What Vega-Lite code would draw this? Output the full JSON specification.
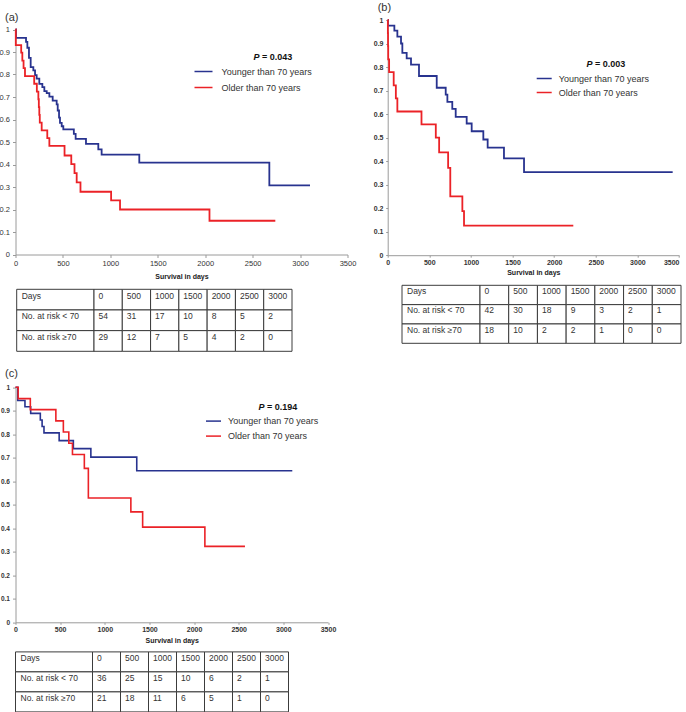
{
  "$schema": "https://vega.github.io/schema/vega-lite/v6.json",
  "background": "white",
  "padding": {"left": -1.5, "top": 1, "right": 0, "bottom": 0},
  "config": {
    "font": "Liberation Sans",
    "view": {"stroke": null},
    "axis": {"grid": false, "domainColor": "#9a9a9a", "tickColor": "#9a9a9a", "labelColor": "#333", "titleColor": "#222", "labelFont": "Liberation Sans", "titleFont": "Liberation Sans", "labelOverlap": false},
    "legend": {"labelFont": "Liberation Sans"}
  },
  "datasets": {
    "km": [
      {"p":"a","g":"Younger than 70 years","t":0,"s":1},
      {"p":"a","g":"Younger than 70 years","t":5,"s":0.963},
      {"p":"a","g":"Younger than 70 years","t":111,"s":0.945},
      {"p":"a","g":"Younger than 70 years","t":125,"s":0.919},
      {"p":"a","g":"Younger than 70 years","t":142,"s":0.874},
      {"p":"a","g":"Younger than 70 years","t":160,"s":0.833},
      {"p":"a","g":"Younger than 70 years","t":188,"s":0.818},
      {"p":"a","g":"Younger than 70 years","t":206,"s":0.797},
      {"p":"a","g":"Younger than 70 years","t":223,"s":0.782},
      {"p":"a","g":"Younger than 70 years","t":251,"s":0.758},
      {"p":"a","g":"Younger than 70 years","t":283,"s":0.744},
      {"p":"a","g":"Younger than 70 years","t":304,"s":0.726},
      {"p":"a","g":"Younger than 70 years","t":329,"s":0.717},
      {"p":"a","g":"Younger than 70 years","t":357,"s":0.702},
      {"p":"a","g":"Younger than 70 years","t":392,"s":0.684},
      {"p":"a","g":"Younger than 70 years","t":434,"s":0.667},
      {"p":"a","g":"Younger than 70 years","t":445,"s":0.64},
      {"p":"a","g":"Younger than 70 years","t":459,"s":0.608},
      {"p":"a","g":"Younger than 70 years","t":469,"s":0.585},
      {"p":"a","g":"Younger than 70 years","t":487,"s":0.57},
      {"p":"a","g":"Younger than 70 years","t":504,"s":0.556},
      {"p":"a","g":"Younger than 70 years","t":615,"s":0.536},
      {"p":"a","g":"Younger than 70 years","t":634,"s":0.514},
      {"p":"a","g":"Younger than 70 years","t":743,"s":0.492},
      {"p":"a","g":"Younger than 70 years","t":873,"s":0.467},
      {"p":"a","g":"Younger than 70 years","t":908,"s":0.444},
      {"p":"a","g":"Younger than 70 years","t":1305,"s":0.408},
      {"p":"a","g":"Younger than 70 years","t":2676,"s":0.307},
      {"p":"a","g":"Younger than 70 years","t":3105,"s":0.307},
      {"p":"a","g":"Older than 70 years","t":0,"s":1},
      {"p":"a","g":"Older than 70 years","t":3,"s":0.931},
      {"p":"a","g":"Older than 70 years","t":60,"s":0.897},
      {"p":"a","g":"Older than 70 years","t":72,"s":0.862},
      {"p":"a","g":"Older than 70 years","t":85,"s":0.828},
      {"p":"a","g":"Older than 70 years","t":100,"s":0.793},
      {"p":"a","g":"Older than 70 years","t":197,"s":0.759},
      {"p":"a","g":"Older than 70 years","t":225,"s":0.724},
      {"p":"a","g":"Older than 70 years","t":241,"s":0.69},
      {"p":"a","g":"Older than 70 years","t":246,"s":0.655},
      {"p":"a","g":"Older than 70 years","t":251,"s":0.621},
      {"p":"a","g":"Older than 70 years","t":256,"s":0.586},
      {"p":"a","g":"Older than 70 years","t":276,"s":0.552},
      {"p":"a","g":"Older than 70 years","t":335,"s":0.517},
      {"p":"a","g":"Older than 70 years","t":357,"s":0.483},
      {"p":"a","g":"Older than 70 years","t":517,"s":0.44},
      {"p":"a","g":"Older than 70 years","t":588,"s":0.402},
      {"p":"a","g":"Older than 70 years","t":622,"s":0.362},
      {"p":"a","g":"Older than 70 years","t":645,"s":0.321},
      {"p":"a","g":"Older than 70 years","t":685,"s":0.279},
      {"p":"a","g":"Older than 70 years","t":1008,"s":0.241},
      {"p":"a","g":"Older than 70 years","t":1102,"s":0.2},
      {"p":"a","g":"Older than 70 years","t":2045,"s":0.15},
      {"p":"a","g":"Older than 70 years","t":2739,"s":0.15},
      {"p":"b","g":"Younger than 70 years","t":0,"s":1},
      {"p":"b","g":"Younger than 70 years","t":3,"s":0.976},
      {"p":"b","g":"Younger than 70 years","t":80,"s":0.955},
      {"p":"b","g":"Younger than 70 years","t":116,"s":0.929},
      {"p":"b","g":"Younger than 70 years","t":160,"s":0.9},
      {"p":"b","g":"Younger than 70 years","t":176,"s":0.86},
      {"p":"b","g":"Younger than 70 years","t":228,"s":0.837},
      {"p":"b","g":"Younger than 70 years","t":280,"s":0.81},
      {"p":"b","g":"Younger than 70 years","t":376,"s":0.762},
      {"p":"b","g":"Younger than 70 years","t":589,"s":0.712},
      {"p":"b","g":"Younger than 70 years","t":697,"s":0.683},
      {"p":"b","g":"Younger than 70 years","t":717,"s":0.652},
      {"p":"b","g":"Younger than 70 years","t":776,"s":0.622},
      {"p":"b","g":"Younger than 70 years","t":817,"s":0.588},
      {"p":"b","g":"Younger than 70 years","t":949,"s":0.56},
      {"p":"b","g":"Younger than 70 years","t":1009,"s":0.527},
      {"p":"b","g":"Younger than 70 years","t":1149,"s":0.492},
      {"p":"b","g":"Younger than 70 years","t":1201,"s":0.457},
      {"p":"b","g":"Younger than 70 years","t":1397,"s":0.412},
      {"p":"b","g":"Younger than 70 years","t":1638,"s":0.353},
      {"p":"b","g":"Younger than 70 years","t":3424,"s":0.353},
      {"p":"b","g":"Older than 70 years","t":0,"s":1},
      {"p":"b","g":"Older than 70 years","t":2,"s":0.944},
      {"p":"b","g":"Older than 70 years","t":4,"s":0.889},
      {"p":"b","g":"Older than 70 years","t":6,"s":0.833},
      {"p":"b","g":"Older than 70 years","t":17,"s":0.778},
      {"p":"b","g":"Older than 70 years","t":72,"s":0.722},
      {"p":"b","g":"Older than 70 years","t":98,"s":0.667},
      {"p":"b","g":"Older than 70 years","t":116,"s":0.611},
      {"p":"b","g":"Older than 70 years","t":406,"s":0.556},
      {"p":"b","g":"Older than 70 years","t":578,"s":0.5},
      {"p":"b","g":"Older than 70 years","t":618,"s":0.437},
      {"p":"b","g":"Older than 70 years","t":726,"s":0.371},
      {"p":"b","g":"Older than 70 years","t":752,"s":0.25},
      {"p":"b","g":"Older than 70 years","t":897,"s":0.187},
      {"p":"b","g":"Older than 70 years","t":917,"s":0.126},
      {"p":"b","g":"Older than 70 years","t":2230,"s":0.126},
      {"p":"c","g":"Younger than 70 years","t":0,"s":1},
      {"p":"c","g":"Younger than 70 years","t":25,"s":0.944},
      {"p":"c","g":"Younger than 70 years","t":106,"s":0.917},
      {"p":"c","g":"Younger than 70 years","t":170,"s":0.889},
      {"p":"c","g":"Younger than 70 years","t":278,"s":0.861},
      {"p":"c","g":"Younger than 70 years","t":298,"s":0.833},
      {"p":"c","g":"Younger than 70 years","t":319,"s":0.806},
      {"p":"c","g":"Younger than 70 years","t":489,"s":0.773},
      {"p":"c","g":"Younger than 70 years","t":648,"s":0.739},
      {"p":"c","g":"Younger than 70 years","t":844,"s":0.703},
      {"p":"c","g":"Younger than 70 years","t":1358,"s":0.645},
      {"p":"c","g":"Younger than 70 years","t":3100,"s":0.645},
      {"p":"c","g":"Older than 70 years","t":0,"s":1},
      {"p":"c","g":"Older than 70 years","t":30,"s":0.952},
      {"p":"c","g":"Older than 70 years","t":166,"s":0.905},
      {"p":"c","g":"Older than 70 years","t":452,"s":0.857},
      {"p":"c","g":"Older than 70 years","t":536,"s":0.81},
      {"p":"c","g":"Older than 70 years","t":597,"s":0.762},
      {"p":"c","g":"Older than 70 years","t":638,"s":0.714},
      {"p":"c","g":"Older than 70 years","t":771,"s":0.655},
      {"p":"c","g":"Older than 70 years","t":816,"s":0.529},
      {"p":"c","g":"Older than 70 years","t":1292,"s":0.47},
      {"p":"c","g":"Older than 70 years","t":1424,"s":0.405},
      {"p":"c","g":"Older than 70 years","t":2121,"s":0.323},
      {"p":"c","g":"Older than 70 years","t":2570,"s":0.323}
    ],
    "tables": [
      {"tab":"a","row":"Days","col":"label","text":"Days"},
      {"tab":"a","row":"Days","col":"0","text":"0"},
      {"tab":"a","row":"Days","col":"500","text":"500"},
      {"tab":"a","row":"Days","col":"1000","text":"1000"},
      {"tab":"a","row":"Days","col":"1500","text":"1500"},
      {"tab":"a","row":"Days","col":"2000","text":"2000"},
      {"tab":"a","row":"Days","col":"2500","text":"2500"},
      {"tab":"a","row":"Days","col":"3000","text":"3000"},
      {"tab":"a","row":"No. at risk < 70","col":"label","text":"No. at risk < 70"},
      {"tab":"a","row":"No. at risk < 70","col":"0","text":"54"},
      {"tab":"a","row":"No. at risk < 70","col":"500","text":"31"},
      {"tab":"a","row":"No. at risk < 70","col":"1000","text":"17"},
      {"tab":"a","row":"No. at risk < 70","col":"1500","text":"10"},
      {"tab":"a","row":"No. at risk < 70","col":"2000","text":"8"},
      {"tab":"a","row":"No. at risk < 70","col":"2500","text":"5"},
      {"tab":"a","row":"No. at risk < 70","col":"3000","text":"2"},
      {"tab":"a","row":"No. at risk ≥70","col":"label","text":"No. at risk ≥70"},
      {"tab":"a","row":"No. at risk ≥70","col":"0","text":"29"},
      {"tab":"a","row":"No. at risk ≥70","col":"500","text":"12"},
      {"tab":"a","row":"No. at risk ≥70","col":"1000","text":"7"},
      {"tab":"a","row":"No. at risk ≥70","col":"1500","text":"5"},
      {"tab":"a","row":"No. at risk ≥70","col":"2000","text":"4"},
      {"tab":"a","row":"No. at risk ≥70","col":"2500","text":"2"},
      {"tab":"a","row":"No. at risk ≥70","col":"3000","text":"0"},
      {"tab":"b","row":"Days","col":"label","text":"Days"},
      {"tab":"b","row":"Days","col":"0","text":"0"},
      {"tab":"b","row":"Days","col":"500","text":"500"},
      {"tab":"b","row":"Days","col":"1000","text":"1000"},
      {"tab":"b","row":"Days","col":"1500","text":"1500"},
      {"tab":"b","row":"Days","col":"2000","text":"2000"},
      {"tab":"b","row":"Days","col":"2500","text":"2500"},
      {"tab":"b","row":"Days","col":"3000","text":"3000"},
      {"tab":"b","row":"No. at risk < 70","col":"label","text":"No. at risk < 70"},
      {"tab":"b","row":"No. at risk < 70","col":"0","text":"42"},
      {"tab":"b","row":"No. at risk < 70","col":"500","text":"30"},
      {"tab":"b","row":"No. at risk < 70","col":"1000","text":"18"},
      {"tab":"b","row":"No. at risk < 70","col":"1500","text":"9"},
      {"tab":"b","row":"No. at risk < 70","col":"2000","text":"3"},
      {"tab":"b","row":"No. at risk < 70","col":"2500","text":"2"},
      {"tab":"b","row":"No. at risk < 70","col":"3000","text":"1"},
      {"tab":"b","row":"No. at risk ≥70","col":"label","text":"No. at risk ≥70"},
      {"tab":"b","row":"No. at risk ≥70","col":"0","text":"18"},
      {"tab":"b","row":"No. at risk ≥70","col":"500","text":"10"},
      {"tab":"b","row":"No. at risk ≥70","col":"1000","text":"2"},
      {"tab":"b","row":"No. at risk ≥70","col":"1500","text":"2"},
      {"tab":"b","row":"No. at risk ≥70","col":"2000","text":"1"},
      {"tab":"b","row":"No. at risk ≥70","col":"2500","text":"0"},
      {"tab":"b","row":"No. at risk ≥70","col":"3000","text":"0"},
      {"tab":"c","row":"Days","col":"label","text":"Days"},
      {"tab":"c","row":"Days","col":"0","text":"0"},
      {"tab":"c","row":"Days","col":"500","text":"500"},
      {"tab":"c","row":"Days","col":"1000","text":"1000"},
      {"tab":"c","row":"Days","col":"1500","text":"1500"},
      {"tab":"c","row":"Days","col":"2000","text":"2000"},
      {"tab":"c","row":"Days","col":"2500","text":"2500"},
      {"tab":"c","row":"Days","col":"3000","text":"3000"},
      {"tab":"c","row":"No. at risk < 70","col":"label","text":"No. at risk < 70"},
      {"tab":"c","row":"No. at risk < 70","col":"0","text":"36"},
      {"tab":"c","row":"No. at risk < 70","col":"500","text":"25"},
      {"tab":"c","row":"No. at risk < 70","col":"1000","text":"15"},
      {"tab":"c","row":"No. at risk < 70","col":"1500","text":"10"},
      {"tab":"c","row":"No. at risk < 70","col":"2000","text":"6"},
      {"tab":"c","row":"No. at risk < 70","col":"2500","text":"2"},
      {"tab":"c","row":"No. at risk < 70","col":"3000","text":"1"},
      {"tab":"c","row":"No. at risk ≥70","col":"label","text":"No. at risk ≥70"},
      {"tab":"c","row":"No. at risk ≥70","col":"0","text":"21"},
      {"tab":"c","row":"No. at risk ≥70","col":"500","text":"18"},
      {"tab":"c","row":"No. at risk ≥70","col":"1000","text":"11"},
      {"tab":"c","row":"No. at risk ≥70","col":"1500","text":"6"},
      {"tab":"c","row":"No. at risk ≥70","col":"2000","text":"5"},
      {"tab":"c","row":"No. at risk ≥70","col":"2500","text":"1"},
      {"tab":"c","row":"No. at risk ≥70","col":"3000","text":"0"}
    ]
  },
  "columns": 2,
  "spacing": {"row": 29.3, "column": 40.2},
  "bounds": "flush",
  "align": "each",
  "resolve": {"scale": {"color": "independent"}, "legend": {"color": "independent"}},
  "concat": [
    {
      "width": 332, "height": 234.5,
      "title": {"text": "(a)", "anchor": "start", "frame": "group", "dx": -10.5, "offset": -14, "baseline": "bottom", "fontSize": 11, "fontWeight": "normal", "color": "#333", "font": "Liberation Sans"},
      "layer": [
        {
          "data": {"name": "km"},
          "transform": [{"filter": "datum.p === 'a'"}],
          "mark": {"type": "line", "interpolate": "step-after", "strokeWidth": 1.8},
          "encoding": {
            "x": {"field": "t", "type": "quantitative", "scale": {"domain": [0, 3500], "nice": false, "zero": false},
                  "axis": {"values": [0,500,1000,1500,2000,2500,3000,3500], "tickCount": 20, "format": "d", "title": "Survival in days", "titleFontSize": 7, "titleFontWeight": "bold", "titlePadding": 5, "labelFontSize": 7.5, "labelFontWeight": "normal", "tickSize": 3, "labelPadding": 2, "labelFlush": false, "labelOverlap": false}},
            "y": {"field": "s", "type": "quantitative", "scale": {"domain": [0, 1], "range": [234.5, 9.5], "nice": false, "zero": false},
                  "axis": {"values": [0,0.1,0.2,0.3,0.4,0.5,0.6,0.7,0.8,0.9,1], "tickCount": 20, "format": "~g", "title": null, "labelFontSize": 7.5, "labelFontWeight": "normal", "tickSize": 3, "labelPadding": 3, "labelOverlap": false, "labelBound": false}},
            "color": {"field": "g", "type": "nominal",
                      "scale": {"domain": ["Younger than 70 years", "Older than 70 years"], "range": ["#28338f", "#eb2227"]},
                      "legend": {"orient": "none", "legendX": 178, "legendY": 41.5, "title": null, "symbolType": "stroke", "symbolSize": 324, "symbolStrokeWidth": 1.5, "labelFontSize": 9, "labelColor": "#333", "labelOffset": 8, "rowPadding": 1, "padding": 0}}
          }
        },
        {
          "data": {"values": [{"a": "P", "b": "= 0.043"}]},
          "mark": {"type": "text", "align": "right", "baseline": "middle", "fontStyle": "italic", "fontWeight": "bold", "fontSize": 9, "color": "#111"},
          "encoding": {"x": {"datum": 2572, "type": "quantitative"}, "y": {"datum": 0.88, "type": "quantitative"}, "text": {"field": "a"}}
        },
        {
          "data": {"values": [{"a": "P", "b": "= 0.043"}]},
          "mark": {"type": "text", "align": "left", "baseline": "middle", "dx": 2.5, "fontWeight": "bold", "fontSize": 9, "color": "#111"},
          "encoding": {"x": {"datum": 2572, "type": "quantitative"}, "y": {"datum": 0.88, "type": "quantitative"}, "text": {"field": "b"}}
        }
      ]
    },
    {
      "width": 291.3, "height": 235.2,
      "title": {"text": "(b)", "anchor": "start", "frame": "group", "dx": -10, "offset": -7.5, "baseline": "bottom", "fontSize": 11, "fontWeight": "normal", "color": "#333", "font": "Liberation Sans"},
      "layer": [
        {
          "data": {"name": "km"},
          "transform": [{"filter": "datum.p === 'b'"}],
          "mark": {"type": "line", "interpolate": "step-after", "strokeWidth": 1.8},
          "encoding": {
            "x": {"field": "t", "type": "quantitative", "scale": {"domain": [0, 3500], "nice": false, "zero": false},
                  "axis": {"values": [0,500,1000,1500,2000,2500,3000,3500], "tickCount": 20, "format": "d", "title": "Survival in days", "titleFontSize": 7, "titleFontWeight": "bold", "titlePadding": 2.5, "labelFontSize": 7, "labelFontWeight": "bold", "tickSize": 2, "labelPadding": 1.5, "labelFlush": false, "labelOverlap": false, "labelAlign": {"expr": "datum.value === 3500 ? 'right' : 'center'"}}},
            "y": {"field": "s", "type": "quantitative", "scale": {"domain": [0, 1], "nice": false, "zero": false},
                  "axis": {"values": [0,0.1,0.2,0.3,0.4,0.5,0.6,0.7,0.8,0.9,1], "tickCount": 20, "format": "~g", "title": null, "labelFontSize": 7, "labelFontWeight": "bold", "tickSize": 2, "labelPadding": 2.7, "labelOverlap": false, "labelBound": false}},
            "color": {"field": "g", "type": "nominal",
                      "scale": {"domain": ["Younger than 70 years", "Older than 70 years"], "range": ["#28338f", "#eb2227"]},
                      "legend": {"orient": "none", "legendX": 148, "legendY": 50, "title": null, "symbolType": "stroke", "symbolSize": 225, "symbolStrokeWidth": 1.5, "labelFontSize": 9, "labelColor": "#333", "labelOffset": 6, "rowPadding": -4.5, "padding": 0}}
          }
        },
        {
          "data": {"values": [{"a": "P", "b": "= 0.003"}]},
          "mark": {"type": "text", "align": "right", "baseline": "middle", "fontStyle": "italic", "fontWeight": "bold", "fontSize": 9, "color": "#111"},
          "encoding": {"x": {"datum": 2461, "type": "quantitative"}, "y": {"datum": 0.815, "type": "quantitative"}, "text": {"field": "a"}}
        },
        {
          "data": {"values": [{"a": "P", "b": "= 0.003"}]},
          "mark": {"type": "text", "align": "left", "baseline": "middle", "dx": 2.5, "fontWeight": "bold", "fontSize": 9, "color": "#111"},
          "encoding": {"x": {"datum": 2461, "type": "quantitative"}, "y": {"datum": 0.815, "type": "quantitative"}, "text": {"field": "b"}}
        }
      ]
    },
    {
      "width": 277, "height": 66,
      "data": {"name": "tables"},
      "transform": [{"filter": "datum.tab === 'a'"}],
      "resolve": {"scale": {"x": "independent"}},
      "layer": [
        {
          "transform": [{"filter": "datum.col === 'label'"}],
          "layer": [
            {"mark": {"type": "rect", "fill": "white", "stroke": "#3c3c3c", "strokeWidth": 1},
             "encoding": {
               "x": {"field": "col", "type": "nominal", "scale": {"domain": ["label"], "range": [1.2, 78.5], "paddingInner": 0, "paddingOuter": 0}, "axis": null},
               "y": {"field": "row", "type": "nominal", "scale": {"domain": ["Days", "No. at risk < 70", "No. at risk ≥70"], "range": [4, 66], "paddingInner": 0, "paddingOuter": 0}, "axis": null}}},
            {"mark": {"type": "text", "align": "left", "baseline": "middle", "dx": 5, "fontSize": 8.5, "color": "#333"},
             "encoding": {
               "x": {"field": "col", "type": "nominal", "bandPosition": 0, "scale": {"domain": ["label"], "range": [1.2, 78.5], "paddingInner": 0, "paddingOuter": 0}, "axis": null},
               "y": {"field": "row", "type": "nominal", "bandPosition": 0.3, "scale": {"domain": ["Days", "No. at risk < 70", "No. at risk ≥70"], "range": [4, 66], "paddingInner": 0, "paddingOuter": 0}, "axis": null},
               "text": {"field": "text"}}}
          ]
        },
        {
          "transform": [{"filter": "datum.col !== 'label'"}],
          "layer": [
            {"mark": {"type": "rect", "fill": "white", "stroke": "#3c3c3c", "strokeWidth": 1},
             "encoding": {
               "x": {"field": "col", "type": "nominal", "scale": {"domain": ["0","500","1000","1500","2000","2500","3000"], "range": [78.5, 276.5], "paddingInner": 0, "paddingOuter": 0}, "axis": null},
               "y": {"field": "row", "type": "nominal", "scale": {"domain": ["Days", "No. at risk < 70", "No. at risk ≥70"], "range": [4, 66], "paddingInner": 0, "paddingOuter": 0}, "axis": null}}},
            {"mark": {"type": "text", "align": "left", "baseline": "middle", "dx": 4.5, "fontSize": 8.5, "color": "#333"},
             "encoding": {
               "x": {"field": "col", "type": "nominal", "bandPosition": 0, "scale": {"domain": ["0","500","1000","1500","2000","2500","3000"], "range": [78.5, 276.5], "paddingInner": 0, "paddingOuter": 0}, "axis": null},
               "y": {"field": "row", "type": "nominal", "bandPosition": 0.3, "scale": {"domain": ["Days", "No. at risk < 70", "No. at risk ≥70"], "range": [4, 66], "paddingInner": 0, "paddingOuter": 0}, "axis": null},
               "text": {"field": "text"}}}
          ]
        }
      ]
    },
    {
      "width": 293.3, "height": 58,
      "data": {"name": "tables"},
      "transform": [{"filter": "datum.tab === 'b'"}],
      "resolve": {"scale": {"x": "independent"}},
      "layer": [
        {
          "transform": [{"filter": "datum.col === 'label'"}],
          "layer": [
            {"mark": {"type": "rect", "fill": "white", "stroke": "#3c3c3c", "strokeWidth": 1},
             "encoding": {
               "x": {"field": "col", "type": "nominal", "scale": {"domain": ["label"], "range": [14.3, 92.3], "paddingInner": 0, "paddingOuter": 0}, "axis": null},
               "y": {"field": "row", "type": "nominal", "scale": {"domain": ["Days", "No. at risk < 70", "No. at risk ≥70"], "range": [0, 58], "paddingInner": 0, "paddingOuter": 0}, "axis": null}}},
            {"mark": {"type": "text", "align": "left", "baseline": "middle", "dx": 5, "fontSize": 8.5, "color": "#333"},
             "encoding": {
               "x": {"field": "col", "type": "nominal", "bandPosition": 0, "scale": {"domain": ["label"], "range": [14.3, 92.3], "paddingInner": 0, "paddingOuter": 0}, "axis": null},
               "y": {"field": "row", "type": "nominal", "bandPosition": 0.3, "scale": {"domain": ["Days", "No. at risk < 70", "No. at risk ≥70"], "range": [0, 58], "paddingInner": 0, "paddingOuter": 0}, "axis": null},
               "text": {"field": "text"}}}
          ]
        },
        {
          "transform": [{"filter": "datum.col !== 'label'"}],
          "layer": [
            {"mark": {"type": "rect", "fill": "white", "stroke": "#3c3c3c", "strokeWidth": 1},
             "encoding": {
               "x": {"field": "col", "type": "nominal", "scale": {"domain": ["0","500","1000","1500","2000","2500","3000"], "range": [92.3, 293.3], "paddingInner": 0, "paddingOuter": 0}, "axis": null},
               "y": {"field": "row", "type": "nominal", "scale": {"domain": ["Days", "No. at risk < 70", "No. at risk ≥70"], "range": [0, 58], "paddingInner": 0, "paddingOuter": 0}, "axis": null}}},
            {"mark": {"type": "text", "align": "left", "baseline": "middle", "dx": 4.5, "fontSize": 8.5, "color": "#333"},
             "encoding": {
               "x": {"field": "col", "type": "nominal", "bandPosition": 0, "scale": {"domain": ["0","500","1000","1500","2000","2500","3000"], "range": [92.3, 293.3], "paddingInner": 0, "paddingOuter": 0}, "axis": null},
               "y": {"field": "row", "type": "nominal", "bandPosition": 0.3, "scale": {"domain": ["Days", "No. at risk < 70", "No. at risk ≥70"], "range": [0, 58], "paddingInner": 0, "paddingOuter": 0}, "axis": null},
               "text": {"field": "text"}}}
          ]
        }
      ]
    },
    {
      "width": 312.5, "height": 241.7,
      "title": {"text": "(c)", "anchor": "start", "frame": "group", "dx": -10.5, "offset": -9.7, "baseline": "bottom", "fontSize": 11, "fontWeight": "normal", "color": "#333", "font": "Liberation Sans"},
      "layer": [
        {
          "data": {"name": "km"},
          "transform": [{"filter": "datum.p === 'c'"}],
          "mark": {"type": "line", "interpolate": "step-after", "strokeWidth": 1.6},
          "encoding": {
            "x": {"field": "t", "type": "quantitative", "scale": {"domain": [0, 3500], "nice": false, "zero": false},
                  "axis": {"values": [0,500,1000,1500,2000,2500,3000,3500], "tickCount": 20, "format": "d", "title": "Survival in days", "titleFontSize": 7, "titleFontWeight": "bold", "titlePadding": 4, "labelFontSize": 7, "labelFontWeight": "bold", "tickSize": 2, "labelPadding": 1.5, "labelFlush": false, "labelOverlap": false}},
            "y": {"field": "s", "type": "quantitative", "scale": {"domain": [0, 1], "range": [241.7, 6.7], "nice": false, "zero": false},
                  "axis": {"values": [0,0.1,0.2,0.3,0.4,0.5,0.6,0.7,0.8,0.9,1], "tickCount": 20, "format": "~g", "title": null, "labelFontSize": 6.5, "labelFontWeight": "bold", "tickSize": 3, "labelPadding": 3, "labelOverlap": false, "labelBound": false}},
            "color": {"field": "g", "type": "nominal",
                      "scale": {"domain": ["Younger than 70 years", "Older than 70 years"], "range": ["#28338f", "#eb2227"]},
                      "legend": {"orient": "none", "legendX": 189.5, "legendY": 32, "title": null, "symbolType": "stroke", "symbolSize": 225, "symbolStrokeWidth": 1.5, "labelFontSize": 9, "labelColor": "#333", "labelOffset": 6, "rowPadding": 1, "padding": 0}}
          }
        },
        {
          "data": {"values": [{"a": "P", "b": "= 0.194"}]},
          "mark": {"type": "text", "align": "right", "baseline": "middle", "fontStyle": "italic", "fontWeight": "bold", "fontSize": 9, "color": "#111"},
          "encoding": {"x": {"datum": 2789, "type": "quantitative"}, "y": {"datum": 0.916, "type": "quantitative"}, "text": {"field": "a"}}
        },
        {
          "data": {"values": [{"a": "P", "b": "= 0.194"}]},
          "mark": {"type": "text", "align": "left", "baseline": "middle", "dx": 2.5, "fontWeight": "bold", "fontSize": 9, "color": "#111"},
          "encoding": {"x": {"datum": 2789, "type": "quantitative"}, "y": {"datum": 0.916, "type": "quantitative"}, "text": {"field": "b"}}
        }
      ]
    },
    {
      "width": 10, "height": 10,
      "data": {"values": []},
      "mark": "point"
    },
    {
      "width": 275, "height": 60,
      "data": {"name": "tables"},
      "transform": [{"filter": "datum.tab === 'c'"}],
      "resolve": {"scale": {"x": "independent"}},
      "layer": [
        {
          "transform": [{"filter": "datum.col === 'label'"}],
          "layer": [
            {"mark": {"type": "rect", "fill": "white", "stroke": "#3c3c3c", "strokeWidth": 1},
             "encoding": {
               "x": {"field": "col", "type": "nominal", "scale": {"domain": ["label"], "range": [0, 77], "paddingInner": 0, "paddingOuter": 0}, "axis": null},
               "y": {"field": "row", "type": "nominal", "scale": {"domain": ["Days", "No. at risk < 70", "No. at risk ≥70"], "range": [0, 60], "paddingInner": 0, "paddingOuter": 0}, "axis": null}}},
            {"mark": {"type": "text", "align": "left", "baseline": "middle", "dx": 5, "fontSize": 8.5, "color": "#333"},
             "encoding": {
               "x": {"field": "col", "type": "nominal", "bandPosition": 0, "scale": {"domain": ["label"], "range": [0, 77], "paddingInner": 0, "paddingOuter": 0}, "axis": null},
               "y": {"field": "row", "type": "nominal", "bandPosition": 0.3, "scale": {"domain": ["Days", "No. at risk < 70", "No. at risk ≥70"], "range": [0, 60], "paddingInner": 0, "paddingOuter": 0}, "axis": null},
               "text": {"field": "text"}}}
          ]
        },
        {
          "transform": [{"filter": "datum.col !== 'label'"}],
          "layer": [
            {"mark": {"type": "rect", "fill": "white", "stroke": "#3c3c3c", "strokeWidth": 1},
             "encoding": {
               "x": {"field": "col", "type": "nominal", "scale": {"domain": ["0","500","1000","1500","2000","2500","3000"], "range": [77, 273], "paddingInner": 0, "paddingOuter": 0}, "axis": null},
               "y": {"field": "row", "type": "nominal", "scale": {"domain": ["Days", "No. at risk < 70", "No. at risk ≥70"], "range": [0, 60], "paddingInner": 0, "paddingOuter": 0}, "axis": null}}},
            {"mark": {"type": "text", "align": "left", "baseline": "middle", "dx": 4.5, "fontSize": 8.5, "color": "#333"},
             "encoding": {
               "x": {"field": "col", "type": "nominal", "bandPosition": 0, "scale": {"domain": ["0","500","1000","1500","2000","2500","3000"], "range": [77, 273], "paddingInner": 0, "paddingOuter": 0}, "axis": null},
               "y": {"field": "row", "type": "nominal", "bandPosition": 0.3, "scale": {"domain": ["Days", "No. at risk < 70", "No. at risk ≥70"], "range": [0, 60], "paddingInner": 0, "paddingOuter": 0}, "axis": null},
               "text": {"field": "text"}}}
          ]
        }
      ]
    }
  ]
}
